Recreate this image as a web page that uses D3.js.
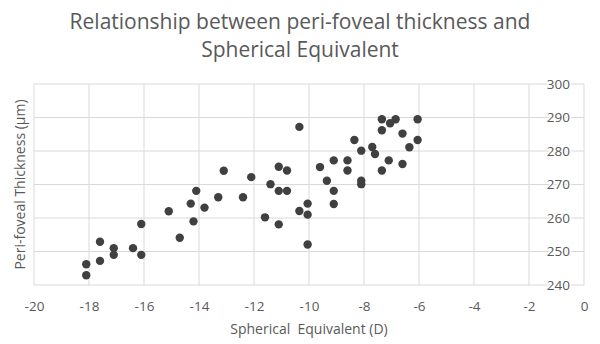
<!DOCTYPE html>
<html>
<head>
<meta charset="utf-8">
<script src="https://cdn.jsdelivr.net/npm/d3@7"></script>
<style>
  body { margin: 0; background: #fff; }
  svg { display: block; }
</style>
</head>
<body>
<svg id="chart" width="600" height="344"></svg>
<script>
const sphericalEquivalent = [-18.1,-18.1,-17.6,-17.6,-17.1,-17.1,-16.4,-16.1,-16.1,-15.1,-14.7,-14.3,-14.2,-14.1,-13.8,-13.3,-13.1,-12.4,-12.1,-11.1,-10.8,-11.4,-11.1,-10.8,-11.6,-11.1,-10.35,-10.05,-10.05,-10.05,-10.35,-9.6,-9.35,-9.1,-9.1,-9.1,-8.6,-8.6,-8.1,-8.1,-8.35,-8.1,-7.7,-7.6,-7.35,-7.35,-7.05,-6.85,-7.1,-7.35,-6.6,-6.35,-6.6,-6.05,-6.05];
const periFovealThickness = [246.2,242.9,252.9,247.2,251,249,251,249,258.2,262,254.1,264.3,259,268.1,263.1,266.2,274.1,266.2,272.2,275.3,274.2,270.1,268.1,268.1,260.2,258.1,262.1,264.3,261,252.1,287.2,275.2,271.1,277.2,268.1,264.2,277.2,274.2,271.1,270.1,283.3,280.1,281.2,279.1,289.5,286.2,288.3,289.5,277.2,274.2,285.2,281.1,276.1,289.5,283.3];
const xTicks = [-20,-18,-16,-14,-12,-10,-8,-6,-4,-2,0];
const yTicks = [240,250,260,270,280,290,300];
const titleLines = ["Relationship between peri-foveal thickness and", "Spherical Equivalent"];
const xTitle = "Spherical  Equivalent (D)";
const yTitle = "Peri-foveal Thickness (\u00b5m)";

const svg = d3.select("#chart");
const font = "'Open Sans', 'Noto Sans', sans-serif";
const textColor = "#595959";
const gridColor = "#d9d9d9";

const x = d3.scaleLinear().domain([-20, 0]).range([34, 584]);
const y = d3.scaleLinear().domain([240, 300]).range([285, 84]);

// gridlines
const g = svg.append("g");
g.selectAll("line.vg").data(xTicks).join("line").attr("class","vg")
  .attr("x1", d => x(d)).attr("x2", d => x(d))
  .attr("y1", y(300)).attr("y2", y(240))
  .attr("stroke", gridColor).attr("stroke-width", 1);
g.selectAll("line.hg").data(yTicks).join("line").attr("class","hg")
  .attr("x1", x(-20)).attr("x2", x(0))
  .attr("y1", d => y(d)).attr("y2", d => y(d))
  .attr("stroke", gridColor).attr("stroke-width", 1);

// x axis labels
const xa = svg.append("g").attr("transform", `translate(0,${y(240)})`)
  .call(d3.axisBottom(x).tickValues(xTicks).tickSize(0).tickPadding(16).tickFormat(d => String(d)));
xa.select(".domain").remove();
xa.selectAll("text").attr("font-family", font).attr("font-size", 13.5).attr("fill", textColor);

// y axis labels (at x = 0, drawn left of axis)
const ya = svg.append("g").attr("transform", `translate(${x(0) - 14},0)`)
  .call(d3.axisLeft(y).tickValues(yTicks).tickSize(0).tickPadding(0).tickFormat(d => String(d)));
ya.select(".domain").remove();
ya.selectAll("text").attr("font-family", font).attr("font-size", 13.5).attr("fill", textColor)
  .attr("stroke", "#fff").attr("stroke-width", 3).attr("paint-order", "stroke");

// points
svg.append("g").selectAll("circle")
  .data(sphericalEquivalent.map((v, i) => [v, periFovealThickness[i]]))
  .join("circle")
  .attr("cx", d => x(d[0])).attr("cy", d => y(d[1]))
  .attr("r", 4.2).attr("fill", "#404040");

// title
svg.append("g").selectAll("text").data(titleLines).join("text")
  .attr("x", 300).attr("y", (d, i) => 29 + i * 28)
  .attr("text-anchor", "middle")
  .attr("font-family", font).attr("font-size", 21).attr("fill", textColor)
  .text(d => d);

// axis titles
svg.append("text").attr("x", x(-10)).attr("y", 334)
  .attr("text-anchor", "middle").attr("font-family", font).attr("font-size", 14)
  .attr("fill", textColor).attr("xml:space", "preserve").style("white-space", "pre").text(xTitle);

svg.append("text").attr("transform", `translate(25,${(y(240) + y(300)) / 2}) rotate(-90)`)
  .attr("text-anchor", "middle").attr("font-family", font).attr("font-size", 14)
  .attr("fill", textColor).text(yTitle);
</script>
</body>
</html>
